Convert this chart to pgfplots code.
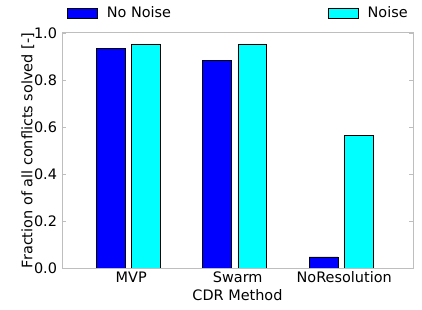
\documentclass[border=0pt]{standalone}
\usepackage{fontspec}
\setmainfont{DejaVu Sans}
\usepackage{pgfplots}
\pgfplotsset{compat=1.18}
\definecolor{framegray}{RGB}{190,190,190}
\begin{document}
\fontsize{14.5}{16}\selectfont
\begin{tikzpicture}
\begin{axis}[
  scale only axis,
  width=351bp, height=235bp,
  xmin=-0.620, xmax=2.676,
  ymin=0, ymax=1,
  xtick={0.03,1.03,2.03},
  xticklabels={MVP,Swarm,NoResolution},
  x tick style={draw=none},
  ytick={0,0.2,0.4,0.6,0.8,1.0},
  yticklabel style={/pgf/number format/fixed,/pgf/number format/precision=1,/pgf/number format/fixed zerofill},
  /pgf/number format/assume math mode=true,
  tick align=inside,
  major tick length=4bp,
  y tick style={framegray, line width=0.8pt},
  axis line style={framegray, line width=1pt},
  tick label style={font=\fontsize{14.5}{16}\selectfont, text=black},
  xticklabel style={yshift=1bp},
  ylabel={Fraction of all conflicts solved [-]},
  xlabel={CDR Method},
  label style={font=\fontsize{14.5}{16}\selectfont},
  ylabel style={at={(axis description cs:-0.097,0.5)}, anchor=center},
  xlabel style={at={(axis description cs:0.5,0)}, anchor=north, yshift=-17bp},
  legend style={at={(axis description cs:0,1)}, anchor=west, xshift=5bp, yshift=20bp,
    draw=none, fill=none, inner sep=0pt, legend columns=2,
    font=\fontsize{14.5}{16}\selectfont,
    /tikz/every odd column/.append style={column sep=7bp},
    /tikz/every even column/.append style={column sep=155bp}},
  legend image code/.code={\draw[#1] (0bp,-5bp) rectangle (30bp,5bp);},
]
\addplot[ybar, bar width=0.269, bar shift=0, fill={rgb,255:red,0;green,0;blue,255}, draw=black, line width=0.6pt]
  coordinates {(-0.164,0.936) (0.836,0.885) (1.836,0.047)};
\addlegendentry{No Noise}
\addplot[ybar, bar width=0.269, bar shift=0, fill={rgb,255:red,0;green,255;blue,255}, draw=black, line width=0.6pt]
  coordinates {(0.168,0.952) (1.168,0.952) (2.168,0.565)};
\addlegendentry{Noise}
\end{axis}
\pgfresetboundingbox
\path (-62bp,-42bp) rectangle (360bp,268bp);
\end{tikzpicture}
\end{document}
